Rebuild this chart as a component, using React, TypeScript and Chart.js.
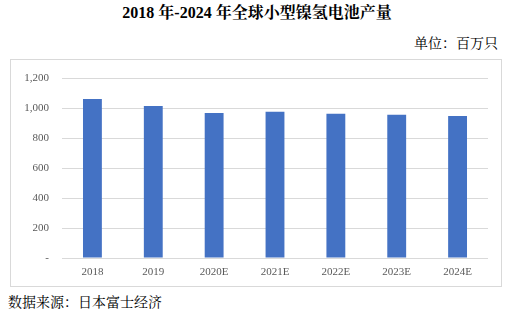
import React, { useEffect, useRef } from "react";
import { Chart, registerables } from "chart.js";

Chart.register(...registerables);

const categories = ["2018", "2019", "2020E", "2021E", "2022E", "2023E", "2024E"];
const production = [1063, 1017, 970, 978, 965, 958, 950];
const yTicks = [0, 200, 400, 600, 800, 1000, 1200];

const serif = '"Times New Roman", "Liberation Serif", "Noto Serif CJK SC", "Noto Sans CJK SC", serif';

export default function App() {
  const ref = useRef<HTMLCanvasElement | null>(null);

  useEffect(() => {
    if (!ref.current) return;
    const chart = new Chart(ref.current, {
      type: "bar",
      data: {
        labels: categories,
        datasets: [
          {
            data: production,
            backgroundColor: "#4472C4",
            borderWidth: 0,
            categoryPercentage: 1,
            barPercentage: 0.31,
          },
        ],
      },
      options: {
        animation: false,
        responsive: false,
        maintainAspectRatio: false,
        layout: { padding: { top: 15, right: 14, bottom: 0, left: 0 } },
        plugins: { legend: { display: false }, tooltip: { enabled: false }, title: { display: false } },
        scales: {
          x: {
            grid: { display: false, drawTicks: false },
            border: { display: false },
            ticks: { color: "#595959", font: { family: serif, size: 11 }, padding: 8, maxRotation: 0 },
            afterFit: (s: any) => { s.height = 29; },
          },
          y: {
            min: 0,
            max: 1200,
            afterBuildTicks: (s: any) => { s.ticks = yTicks.map((v) => ({ value: v })); },
            grid: { color: "#d9d9d9", drawTicks: false, lineWidth: 1 },
            border: { display: false },
            ticks: {
              color: "#595959",
              font: { family: serif, size: 11 },
              padding: 13,
              callback: (v: any) => (Number(v) === 0 ? "-" : Number(v).toLocaleString("en-US")),
            },
            afterFit: (s: any) => { s.width = 52; },
          },
        },
      },
    });
    return () => chart.destroy();
  }, []);

  return (
    <div style={{ position: "absolute", left: 0, top: 0, width: 508, height: 315, background: "#fff", fontFamily: serif }}>
      <div style={{ position: "absolute", left: 0, width: 508, top: 3, textAlign: "center", fontWeight: "bold", fontSize: 16, color: "#000", lineHeight: "20px", paddingLeft: 6, boxSizing: "border-box" }}>
        2018 年-2024 年全球小型镍氢电池产量
      </div>
      <div style={{ position: "absolute", right: 10, top: 35, fontSize: 14, color: "#000", lineHeight: "18px" }}>
        单位：百万只
      </div>
      <div style={{ position: "absolute", left: 10, top: 59, width: 492, height: 228, border: "1px solid #d9d9d9", boxSizing: "border-box" }} />
      <canvas ref={ref} width={492} height={228} style={{ position: "absolute", left: 10, top: 59, width: 492, height: 228 }} />
      <div style={{ position: "absolute", left: 8, top: 294, fontSize: 14, color: "#000", lineHeight: "18px" }}>
        数据来源：日本富士经济
      </div>
    </div>
  );
}
